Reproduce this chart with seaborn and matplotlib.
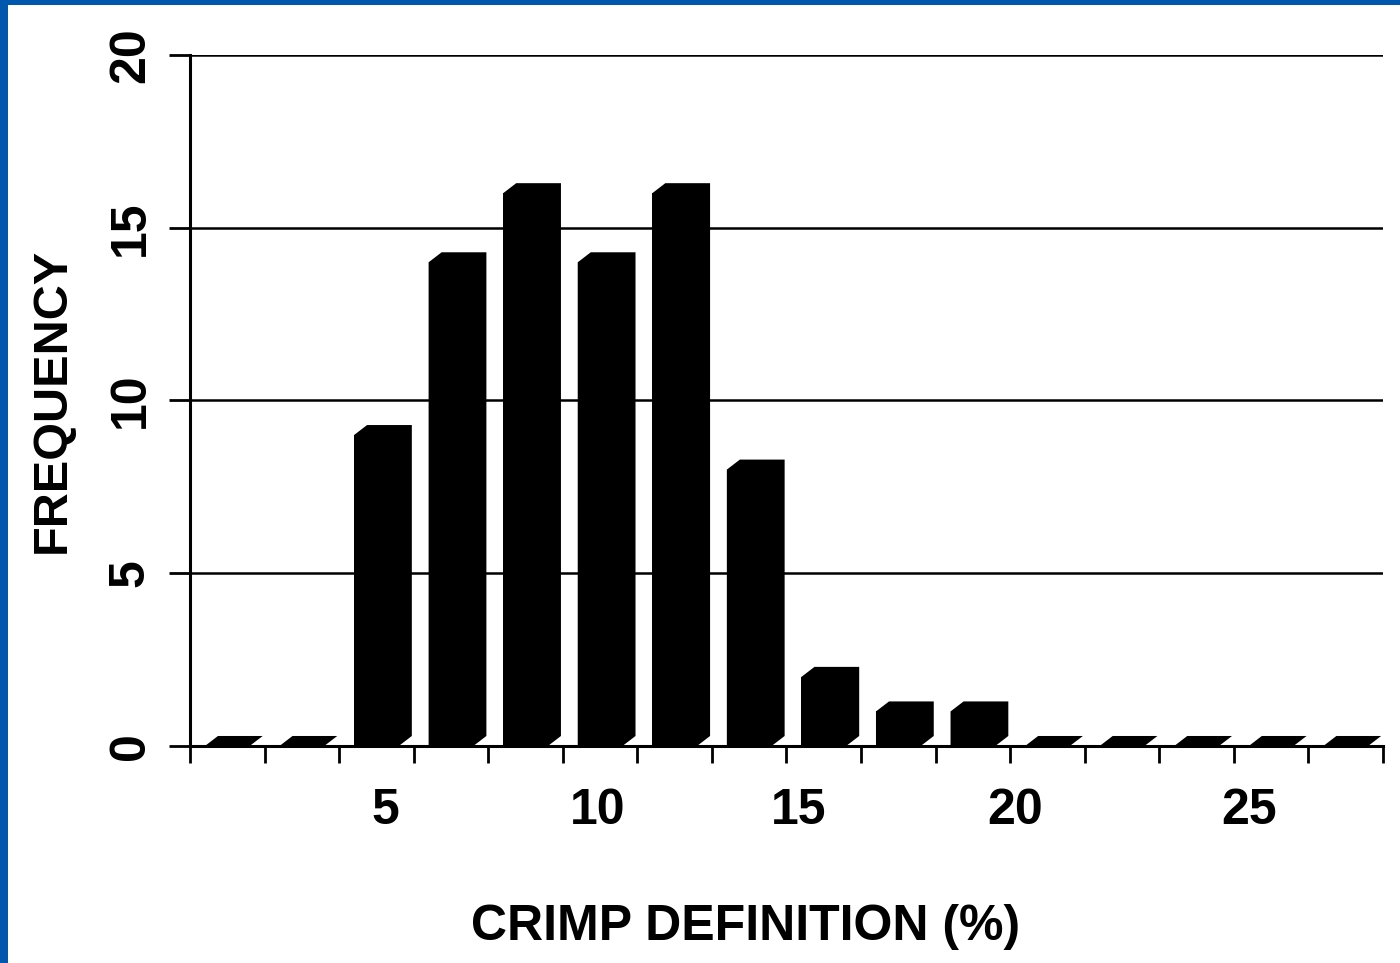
import matplotlib
matplotlib.use("Agg")
import matplotlib.pyplot as plt
from matplotlib.patches import Rectangle, Polygon
import seaborn as sns
import pandas as pd

# ---- data ----
bins = [f"b{i}" for i in range(1, 17)]
frequency = [0, 0, 9, 14, 16, 14, 16, 8, 2, 1, 1, 0, 0, 0, 0, 0]
xtick_labels = ["5", "10", "15", "20", "25"]
xtick_pos = [2.12, 4.97, 7.66, 10.56, 13.71]
ytick_vals = [0, 5, 10, 15, 20]

sns.set_style("white")
plt.rcParams["font.family"] = ["Liberation Sans", "DejaVu Sans"]
plt.rcParams["font.weight"] = "bold"
for k in ["text.color", "axes.labelcolor", "xtick.color", "ytick.color"]:
    plt.rcParams[k] = "black"

fig = plt.figure(figsize=(14, 9.63), dpi=100, facecolor="white")
blue = "#0058ae"
fig.patches.append(Rectangle((0, 0), 8 / 1400, 1, transform=fig.transFigure,
                             facecolor=blue, edgecolor="none"))
fig.patches.append(Rectangle((0, 1 - 5 / 963), 1, 5 / 963, transform=fig.transFigure,
                             facecolor=blue, edgecolor="none"))

ax = fig.add_axes([190 / 1400, 1 - 746 / 963, (1383 - 190) / 1400, (746 - 55) / 963])
ax.set_facecolor("white")

df = pd.DataFrame({"bin": bins, "freq": frequency})
sns.barplot(data=df, x="bin", y="freq", color="black", width=0.6, ax=ax,
            saturation=1, edgecolor="none", zorder=3)

# 3D extrusion of each bar (derived from the bar geometry)
dx, dy = 0.175, 0.29
for p in list(ax.patches):
    x0 = p.get_x()
    x1 = x0 + p.get_width()
    h = p.get_height()
    poly = Polygon([(x0, 0), (x0, h), (x0 + dx, h + dy), (x1 + dx, h + dy),
                    (x1 + dx, dy), (x1, 0)], closed=True, facecolor="black",
                   edgecolor="none", zorder=3)
    ax.add_patch(poly)

ax.set_xlim(-0.5, 15.5)
ax.set_ylim(0, 20)

ax.set_xticks(xtick_pos)
ax.set_xticklabels(xtick_labels, fontsize=36, fontweight="bold", color="black")
ax.set_xticks([i - 0.5 for i in range(17)], minor=True)
ax.tick_params(axis="x", which="major", length=0, pad=30)
ax.tick_params(axis="x", which="minor", length=12, width=2, direction="out", color="black", bottom=True)

ax.set_yticks(ytick_vals)
ax.set_yticklabels([str(v) for v in ytick_vals], fontsize=36, fontweight="bold",
                   rotation=90, va="center", color="black")
ax.tick_params(axis="y", length=15, width=2, color="black", pad=11, left=True)

ax.yaxis.grid(True, color="black", linewidth=1.8)
ax.xaxis.grid(False)
ax.set_axisbelow(True)

for s in ["top", "right"]:
    ax.spines[s].set_visible(False)
for s in ["left", "bottom"]:
    ax.spines[s].set_color("black")
    ax.spines[s].set_linewidth(2.2)

ax.set_xlabel("CRIMP DEFINITION (%)", fontsize=36, fontweight="bold", labelpad=50, color="black")
ax.set_ylabel("FREQUENCY", fontsize=35, fontweight="bold", labelpad=24, color="black")
ax.xaxis.set_label_coords(0.466, -0.228)

fig.savefig("out.png", dpi=100, facecolor=fig.get_facecolor())
